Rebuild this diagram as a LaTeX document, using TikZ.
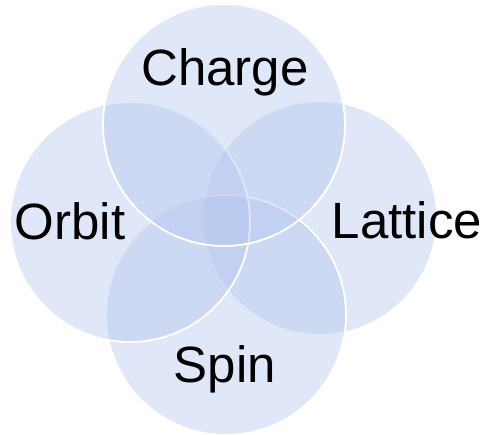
\documentclass[tikz,border=0pt]{standalone}
\usepackage{fontspec}
\setmainfont{Liberation Sans}
\definecolor{ringblue}{RGB}{177,195,237}
\tikzset{
  ring/.style={circle, minimum size=240pt, inner sep=0pt, fill=ringblue, fill opacity=0.4, draw=white, line width=1.8pt},
  word/.style={font=\fontsize{51}{55}\selectfont, text=black}
}

\begin{document}
\begin{tikzpicture}[x=1pt, y=-1pt]
    \useasboundingbox (0,0) rectangle (481,435); % 画布大小与原图一致
    \node[ring, minimum size=234pt] (lattice) at (320,218) {};
    \node[ring] (spin) at (226,315) {};
    \node[ring] (orbit) at (130,222) {};
    \node[ring, minimum size=242pt] (charge) at (224,125) {}; % 最上面的圆
    %\node[ring] (center) at (224,220) {};
    \node[word] (chargetext) at (225,72) {Charge};
    \node[word] (orbittext) at (70,221) {Orbit};
    \node[word] (latticetext) at (407,220) {Lattice};
    \node[word] (spintext) at (225,369) {Spin};
  \end{tikzpicture}
\end{document}
